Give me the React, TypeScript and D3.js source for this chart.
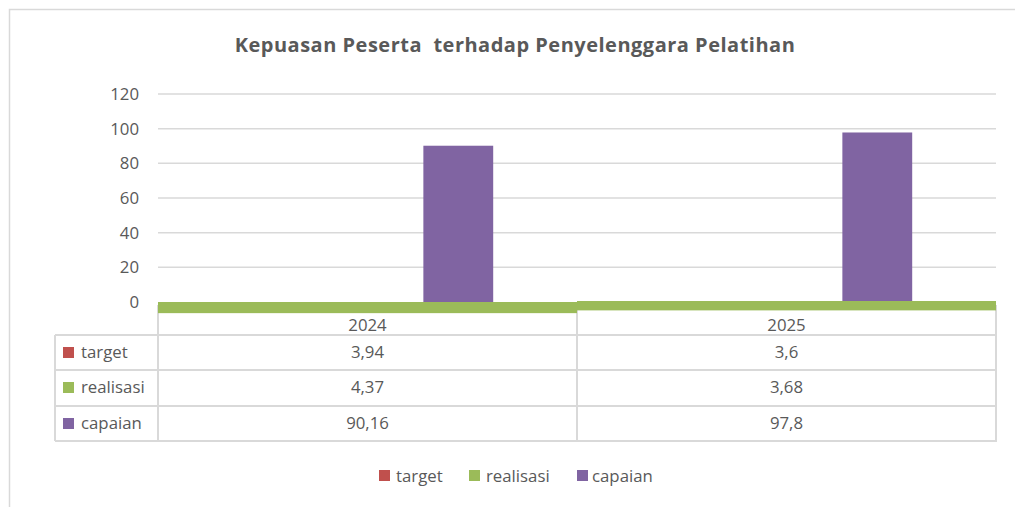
import React from "react";
import * as d3 from "d3";

const title = "Kepuasan Peserta  terhadap Penyelenggara Pelatihan";
const categories = ["2024", "2025"];
const seriesNames = ["target", "realisasi", "capaian"];
const seriesColors = ["#C0504D", "#9BBB59", "#8064A2"];
const realisasi = [4.37, 3.68];
const capaian = [90.16, 97.8];
const tableLabels = [
  ["3,94", "3,6"],
  ["4,37", "3,68"],
  ["90,16", "97,8"],
];
const yTicks = [0, 20, 40, 60, 80, 100, 120];

const W = 1015;
const H = 507;
const FONT = "'Open Sans', 'Noto Sans', 'Liberation Sans', sans-serif";
const TXT = "#595959";
const GRID = "#d9d9d9";
const FS = 16.8;

export default function App() {
  const plotLeft = 158;
  const plotRight = 996;
  const y = d3.scaleLinear().domain([0, 120]).range([302, 94]);
  // secondary scale used by the realisasi series, drawn below zero
  const ySec = d3.scaleLinear().domain([0, 20]).range([0, 51]);
  const x = d3.scaleBand().domain(categories).range([plotLeft, plotRight]).padding(0);
  const inner = d3
    .scaleBand()
    .domain(seriesNames)
    .range([x.bandwidth() * 0.3, x.bandwidth() * 0.8])
    .padding(0);

  const rowTops = [335, 370, 406];
  const rowH = 35;
  const tableBottom = 441;
  const headerY = 325;

  const legendItems = [
    { name: "target", sq: 379, tx: 396 },
    { name: "realisasi", sq: 469, tx: 486 },
    { name: "capaian", sq: 577, tx: 592 },
  ];

  return (
    <svg
      width={W}
      height={H}
      style={{ position: "absolute", left: 0, top: 0, background: "#fff" }}
      fontFamily={FONT}
    >
      <rect x={9.5} y={9.5} width={1020} height={520} fill="#fff" stroke={GRID} strokeWidth={1.5} />
      <text
        x={515}
        y={52}
        textAnchor="middle"
        fontSize={20}
        letterSpacing={0.5}
        fontWeight="bold"
        fill={TXT}
        style={{ whiteSpace: "pre" }}
      >
        {title}
      </text>

      {/* gridlines + y ticks */}
      {yTicks.map((t) => (
        <g key={t}>
          {t !== 0 && (
            <line x1={plotLeft} x2={plotRight} y1={y(t)} y2={y(t)} stroke={GRID} strokeWidth={1.5} />
          )}
          <text x={139} y={y(t)} dy="0.35em" textAnchor="end" fontSize={FS} fill={TXT}>
            {t}
          </text>
        </g>
      ))}

      {/* capaian bars */}
      {categories.map((c, i) => (
        <rect
          key={"cap" + c}
          x={(x(c) as number) + (inner("capaian") as number)}
          width={inner.bandwidth()}
          y={y(capaian[i])}
          height={y(0) - y(capaian[i])}
          fill={seriesColors[2]}
        />
      ))}

      {/* table lines */}
      <g stroke={GRID} strokeWidth={2}>
        {categories.map((c) => (
          <line key={"v" + c} x1={x(c)} x2={x(c)} y1={305} y2={tableBottom} />
        ))}
        <line x1={plotRight} x2={plotRight} y1={305} y2={tableBottom} />
        <line x1={55} x2={55} y1={rowTops[0]} y2={tableBottom} />
        {rowTops.map((r) => (
          <line key={"h" + r} x1={55} x2={plotRight + 1} y1={r} y2={r} />
        ))}
        <line x1={55} x2={plotRight + 1} y1={tableBottom} y2={tableBottom} />
      </g>

      {/* realisasi bands (secondary axis, below zero) */}
      {categories.map((c, i) => (
        <rect
          key={"real" + c}
          x={x(c)}
          width={x.bandwidth()}
          y={y(0) - (i === 1 ? 1 : 0)}
          height={ySec(realisasi[i])}
          fill={seriesColors[1]}
        />
      ))}

      {/* header */}
      {categories.map((c) => (
        <text
          key={"hdr" + c}
          x={(x(c) as number) + x.bandwidth() / 2}
          y={headerY}
          dy="0.35em"
          textAnchor="middle"
          fontSize={FS}
          fill={TXT}
        >
          {c}
        </text>
      ))}

      {/* rows */}
      {seriesNames.map((s, si) => (
        <g key={"row" + s}>
          <rect x={63} y={rowTops[si] + rowH / 2 - 5.5} width={11} height={11} fill={seriesColors[si]} />
          <text x={81} y={rowTops[si] + rowH / 2} dy="0.35em" fontSize={FS} fill={TXT}>
            {s}
          </text>
          {categories.map((c, ci) => (
            <text
              key={c}
              x={(x(c) as number) + x.bandwidth() / 2}
              y={rowTops[si] + rowH / 2}
              dy="0.35em"
              textAnchor="middle"
              fontSize={FS}
              fill={TXT}
            >
              {tableLabels[si][ci]}
            </text>
          ))}
        </g>
      ))}

      {/* legend */}
      {legendItems.map((l, i) => (
        <g key={"lg" + l.name}>
          <rect x={l.sq} y={470} width={11} height={11} fill={seriesColors[i]} />
          <text x={l.tx} y={476} dy="0.35em" fontSize={FS} fill={TXT}>
            {l.name}
          </text>
        </g>
      ))}
    </svg>
  );
}
